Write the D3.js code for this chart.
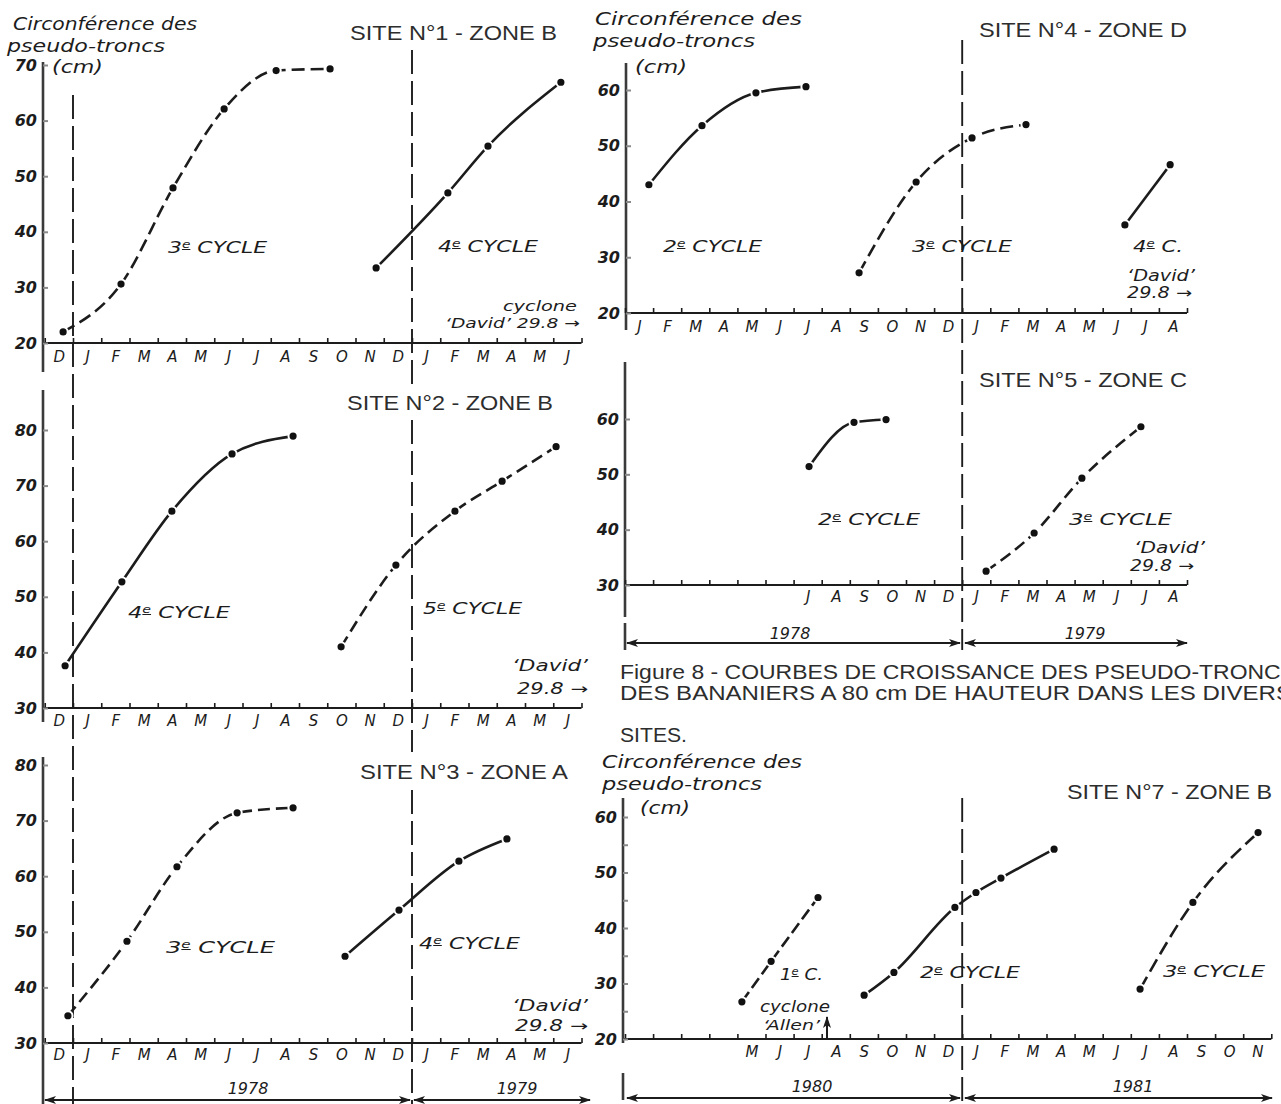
<!DOCTYPE html>
<html><head><meta charset="utf-8">
<script src="https://cdn.jsdelivr.net/npm/d3@7"></script>
<style>
body{margin:0;background:#fff;}
svg{display:block;background:#fff;}
.hand{font-family:'DejaVu Sans',sans-serif;font-style:italic;fill:#1c1c1c;}
.title{font-family:'Liberation Sans',Arial,sans-serif;fill:#2d2d2d;}
</style></head><body>
<svg id="chart" width="1281" height="1104"></svg>
<script>
// ---------- DATA ----------
const monthsLeft  = ["D","J","F","M","A","M","J","J","A","S","O","N","D","J","F","M","A","M","J"];
const monthsSite4 = ["J","F","M","A","M","J","J","A","S","O","N","D","J","F","M","A","M","J","J","A"];
const monthsSite5 = ["","","","","","","J","A","S","O","N","D","J","F","M","A","M","J","J","A"];
const monthsSite7 = ["","","","","M","J","J","A","S","O","N","D","J","F","M","A","M","J","J","A","S","O","N"];
const ticks20to70 = [20,30,40,50,60,70];
const ticks30to80 = [30,40,50,60,70,80];
const ticks20to60 = [20,30,40,50,60];
const ticks30to60 = [30,40,50,60];
const minor20to60 = [25,35,45,55];

// [months elapsed since start of first month on the axis, circumference (cm)]
const site1Cycle3 = [[0.65,22],[2.70,30.6],[4.54,47.9],[6.35,62.1],[8.19,69.0],[10.10,69.3]];
const site1Cycle4 = [[11.73,33.5],[14.27,47],[15.69,55.4],[18.27,66.9]];
const site2Cycle4 = [[0.72,37.6],[2.73,52.7],[4.50,65.4],[6.63,75.7],[8.79,78.9]];
const site2Cycle5 = [[10.49,41],[12.43,55.7],[14.52,65.4],[16.19,70.8],[18.10,77]];
const site3Cycle3 = [[0.82,34.9],[2.91,48.3],[4.68,61.7],[6.81,71.4],[8.79,72.3]];
const site3Cycle4 = [[10.63,45.6],[12.54,53.9],[14.66,62.7],[16.36,66.7]];
const site4Cycle2 = [[0.85,43],[2.74,53.6],[4.66,59.5],[6.44,60.6]];
const site4Cycle3 = [[8.33,27.2],[10.36,43.5],[12.35,51.4],[14.27,53.8]];
const site4Cycle4 = [[17.79,35.8],[19.40,46.6]];
const site5Cycle2 = [[6.55,51.4],[8.15,59.4],[9.29,59.9]];
const site5Cycle3 = [[12.85,32.5],[14.56,39.4],[16.26,49.3],[18.36,58.6]];
const site7Cycle1 = [[4.16,26.7],[5.20,34],[6.87,45.5]];
const site7Cycle2 = [[8.51,27.9],[9.57,32],[11.74,43.7],[12.49,46.4],[13.38,49],[15.27,54.2]];
const site7Cycle3 = [[18.33,29],[20.21,44.6],[22.53,57.2]];

// ---------- SETUP ----------
const ink = "#1c1c1c";
const svg = d3.select("#chart");
const defs = svg.append("defs");
defs.append("marker").attr("id","ah").attr("viewBox","0 0 12 8").attr("refX",11).attr("refY",4)
  .attr("markerWidth",12).attr("markerHeight",8).attr("markerUnits","userSpaceOnUse")
  .attr("orient","auto-start-reverse").append("path").attr("d","M0,0L12,4L0,8L3,4z").attr("fill",ink);

const xLeft  = d3.scaleLinear().domain([0,19]).range([44.75,581.5]);
const xRight = d3.scaleLinear().domain([0,20]).range([625,1187]);
const xSite7 = d3.scaleLinear().domain([0,23]).range([625,1271.3]);

const panels = [
  {xs:xLeft,  ys:d3.scaleLinear().domain([20,70]).range([343,65]),   ax:43,  ticks:ticks20to70, minor:[], n:19, months:monthsLeft,  labelY:357,
   series:[[site1Cycle3,"13,6"],[site1Cycle4,null]]},
  {xs:xLeft,  ys:d3.scaleLinear().domain([30,80]).range([708,430]),  ax:43,  ticks:ticks30to80, minor:[], n:19, months:monthsLeft,  labelY:721,
   series:[[site2Cycle4,null],[site2Cycle5,"12,6"]]},
  {xs:xLeft,  ys:d3.scaleLinear().domain([30,80]).range([1043,765]), ax:43,  ticks:ticks30to80, minor:[], n:19, months:monthsLeft,  labelY:1055,
   series:[[site3Cycle3,"12,6"],[site3Cycle4,null]]},
  {xs:xRight, ys:d3.scaleLinear().domain([20,60]).range([313,90]),   ax:626, ticks:ticks20to60, minor:[], n:20, months:monthsSite4, labelY:327,
   series:[[site4Cycle2,null],[site4Cycle3,"13,6"],[site4Cycle4,null]]},
  {xs:xRight, ys:d3.scaleLinear().domain([30,60]).range([585,419]),  ax:625, ticks:ticks30to60, minor:[], n:20, months:monthsSite5, labelY:597,
   series:[[site5Cycle2,null],[site5Cycle3,"12,6"]]},
  {xs:xSite7, ys:d3.scaleLinear().domain([20,60]).range([1039,817]), ax:623, ticks:ticks20to60, minor:minor20to60, n:23, months:monthsSite7, labelY:1052,
   series:[[site7Cycle1,"12,5"],[site7Cycle2,null],[site7Cycle3,"14,6"]]}
];

// ---------- FRAME LINES ----------
function vline(x,y0,y1,opt){
  svg.append("line").attr("x1",x).attr("x2",x).attr("y1",y0).attr("y2",y1)
    .attr("stroke",opt.c||ink).attr("stroke-width",opt.w||2).attr("stroke-dasharray",opt.dash||null);
}
// y axis spines
[[43,62,372],[43,390,722],[43,757,1104],[626,63,330],[625,362,617],[625,623,650],[623,798,1043],[623,1073,1100]]
  .forEach(s=>vline(s[0],s[1],s[2],{w:2.6,c:"#3a3a3a"}));
// year boundary dashed lines
const dashV = "24,7";
[[xLeft(1),95,1104],[xLeft(13),50,385],[xLeft(13),420,752],[xLeft(13),790,1104],[xRight(12),40,650],[xRight(12),798,1104]]
  .forEach(s=>vline(s[0],s[1],s[2],{w:1.9,dash:dashV}));

// ---------- PANELS ----------
panels.forEach(p=>{
  const g = svg.append("g");
  const y0 = p.ys.range()[0];
  g.append("line").attr("x1",p.ax).attr("x2",p.xs(p.n)).attr("y1",y0).attr("y2",y0).attr("stroke",ink).attr("stroke-width",2.2);
  const tk = g.append("g").attr("transform",`translate(0,${y0})`)
    .call(d3.axisBottom(p.xs).tickValues(d3.range(0,p.n+1)).tickSize(-5).tickFormat(""));
  tk.select(".domain").remove();
  tk.selectAll(".tick line").attr("stroke",ink).attr("stroke-width",1.6);
  const lb = g.append("g").attr("transform",`translate(0,${y0})`)
    .call(d3.axisBottom(p.xs).tickValues(d3.range(p.n).map(i=>i+0.5)).tickSize(0)
      .tickPadding(p.labelY - y0 - 5.5).tickFormat((d,i)=>p.months[i]));
  lb.select(".domain").remove();
  lb.selectAll(".tick text").attr("class","hand").attr("fill","#111").style("font-size","15px");
  const ya = g.append("g").attr("transform",`translate(${p.ax},0)`)
    .call(d3.axisLeft(p.ys).tickValues(p.ticks).tickSize(-5).tickPadding(6).tickFormat(d3.format("d")));
  ya.select(".domain").remove();
  ya.selectAll(".tick line").attr("stroke","#8a8a8a").attr("stroke-width",2);
  ya.selectAll(".tick text").attr("class","hand").attr("fill",ink).style("font-size","16px").style("font-weight","600");
  if (p.minor.length){
    const ym = g.append("g").attr("transform",`translate(${p.ax},0)`)
      .call(d3.axisLeft(p.ys).tickValues(p.minor).tickSize(-5).tickFormat(""));
    ym.select(".domain").remove();
    ym.selectAll(".tick line").attr("stroke","#8a8a8a").attr("stroke-width",2);
  }
  const ln = d3.line().x(d=>p.xs(d[0])).y(d=>p.ys(d[1])).curve(d3.curveMonotoneX);
  p.series.forEach(([data,dash])=>{
    g.append("path").datum(data).attr("d",ln).attr("fill","none").attr("stroke",ink)
      .attr("stroke-width",2.6).attr("stroke-dasharray",dash);
    g.selectAll(null).data(data).enter().append("circle")
      .attr("cx",d=>p.xs(d[0])).attr("cy",d=>p.ys(d[1])).attr("r",4.6)
      .attr("fill","#111").attr("stroke","#fff").attr("stroke-width",2);
  });
});

// ---------- TEXT ----------
function txt(x,y,s,size,len,cls,anchor,fill){
  const t = svg.append("text").attr("class",cls||"hand").attr("x",x).attr("y",y).text(s)
    .style("font-size",size+"px").attr("text-anchor",anchor||"start");
  if(len) t.attr("textLength",len).attr("lengthAdjust","spacingAndGlyphs");
  if(fill) t.attr("fill",fill);
  return t;
}
function cycle(x,y,num,rest,len){
  const t = svg.append("text").attr("class","hand").attr("x",x).attr("y",y).style("font-size","16px")
    .attr("textLength",len).attr("lengthAdjust","spacingAndGlyphs");
  t.append("tspan").text(num);
  t.append("tspan").attr("dy",-5).style("font-size","10px").style("text-decoration","underline").text("e");
  t.append("tspan").attr("dy",5).text(" "+rest);
}

// site titles
[["SITE N°1 - ZONE B",350,40,207],["SITE N°2 - ZONE B",347,410,206],["SITE N°3 - ZONE A",360,779,208],
 ["SITE N°4 - ZONE D",979,37,208],["SITE N°5 - ZONE C",979,387,208],["SITE N°7 - ZONE B",1067,799,205]]
 .forEach(d=>txt(d[1],d[2],d[0],21,d[3],"title"));

// y-axis titles
[[13,30,"Circonférence des",184],[7,52,"pseudo-troncs",158],[52,73,"(cm)",51],
 [595,25,"Circonférence des",207],[593,47,"pseudo-troncs",162],[635,73,"(cm)",52],
 [602,768,"Circonférence des",200],[602,790,"pseudo-troncs",160],[640,814,"(cm)",50]]
 .forEach(d=>txt(d[0],d[1],d[2],17,d[3]));

// cycle labels
cycle(168,253,"3","CYCLE",99);  cycle(438,252,"4","CYCLE",100);
cycle(128,618,"4","CYCLE",102); cycle(423,614,"5","CYCLE",99);
cycle(166,953,"3","CYCLE",109); cycle(419,949,"4","CYCLE",101);
cycle(663,252,"2","CYCLE",99);  cycle(912,252,"3","CYCLE",100); cycle(1133,252,"4","C.",50);
cycle(818,525,"2","CYCLE",102); cycle(1069,525,"3","CYCLE",103);
cycle(780,980,"1","C.",43);     cycle(920,978,"2","CYCLE",100); cycle(1163,977,"3","CYCLE",102);

// cyclone annotations
txt(503,311,"cyclone",14,74);       txt(445,328,"‘David’ 29.8 →",14,135);
txt(512,671,"‘David’",15,76);       txt(517,694,"29.8 →",15,71);
txt(512,1011,"‘David’",15,76);      txt(515,1031,"29.8 →",15,73);
txt(1127,281,"‘David’",15,68);      txt(1127,298,"29.8 →",15,65);
txt(1134,553,"‘David’",15,71);      txt(1130,571,"29.8 →",15,64);
txt(760,1012,"cyclone",15,70);      txt(763,1030,"‘Allen’",14,57);
svg.append("line").attr("x1",827).attr("x2",827).attr("y1",1038).attr("y2",1017)
  .attr("stroke",ink).attr("stroke-width",2).attr("marker-end","url(#ah)");

// years and period arrows
txt(248,1094,"1978",16,null,"hand","middle"); txt(517,1094,"1979",16,null,"hand","middle");
txt(790,639,"1978",16,null,"hand","middle");  txt(1085,639,"1979",16,null,"hand","middle");
txt(812,1092,"1980",16,null,"hand","middle","#9a9a9a"); txt(1133,1092,"1981",16,null,"hand","middle");
function arrow(x0,x1,y){
  svg.append("line").attr("x1",x0).attr("x2",x1).attr("y1",y).attr("y2",y).attr("stroke",ink).attr("stroke-width",2)
    .attr("marker-start","url(#ah)").attr("marker-end","url(#ah)");
}
arrow(45,410,1100); arrow(414,590,1100);
arrow(627,960,643); arrow(965,1187,643);
arrow(627,960,1098); arrow(965,1272,1098);

// figure caption
txt(620,679,"Figure 8 -  COURBES DE CROISSANCE DES PSEUDO-TRONCS",20,676,"title");
txt(620,700,"DES BANANIERS A 80 cm DE HAUTEUR DANS LES DIVERS",20,672,"title");
txt(620,742,"SITES.",20,67,"title");
</script>
</body></html>
